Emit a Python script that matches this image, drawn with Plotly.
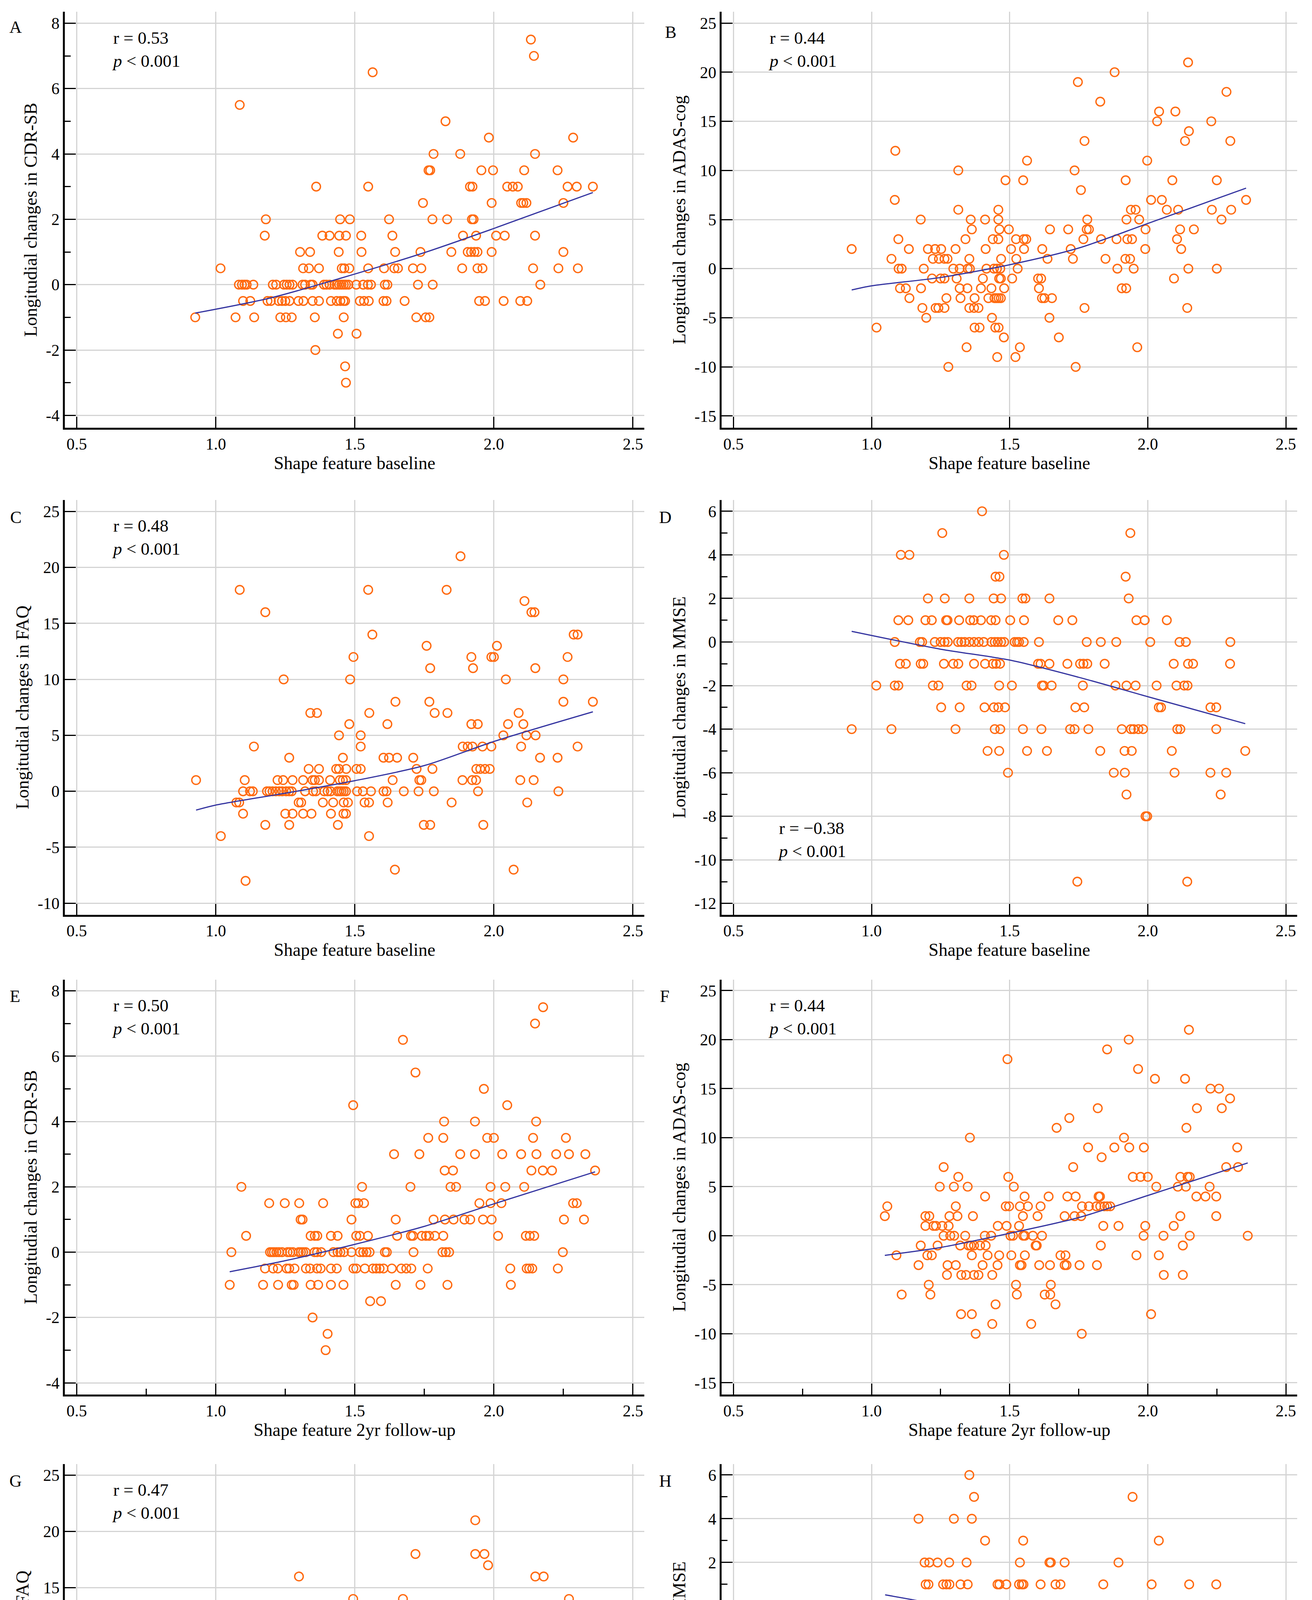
import plotly.graph_objects as go

# ---- values (x: shape feature, y: longitudinal change) ----

# A: baseline vs CDR-SB
A_x = [0.926, 1.017, 1.071, 1.086, 1.083, 1.094, 1.103, 1.111, 1.135, 1.098,
       1.124, 1.138, 1.180, 1.176, 1.205, 1.217, 1.186, 1.198, 1.232, 1.252,
       1.273, 1.226, 1.238, 1.250, 1.265, 1.245, 1.255, 1.265, 1.276, 1.303,
       1.339, 1.314, 1.335, 1.371, 1.297, 1.315, 1.312, 1.321, 1.341, 1.348,
       1.361, 1.348, 1.371, 1.356, 1.358, 1.383, 1.409, 1.389, 1.398, 1.409,
       1.414, 1.435, 1.439, 1.442, 1.447, 1.482, 1.444, 1.468, 1.453, 1.462,
       1.480, 1.427, 1.435, 1.444, 1.452, 1.460, 1.468, 1.477, 1.448, 1.459,
       1.465, 1.460, 1.465, 1.468, 1.506, 1.505, 1.530, 1.547, 1.558, 1.523,
       1.524, 1.548, 1.548, 1.564, 1.518, 1.533, 1.550, 1.605, 1.623, 1.635,
       1.645, 1.642, 1.655, 1.608, 1.617, 1.603, 1.614, 1.679, 1.709, 1.739,
       1.736, 1.727, 1.780, 1.721, 1.755, 1.768, 1.745, 1.765, 1.771, 1.783,
       1.779, 1.826, 1.832, 1.847, 1.879, 1.886, 1.889, 1.906, 1.918, 1.930,
       1.941, 1.914, 1.923, 1.921, 1.927, 1.936, 1.941, 1.959, 1.955, 1.947,
       1.968, 1.982, 1.992, 1.997, 1.992, 2.008, 2.039, 2.035, 2.048, 2.068,
       2.086, 2.098, 2.106, 2.117, 2.109, 2.095, 2.120, 2.133, 2.144, 2.148,
       2.148, 2.141, 2.167, 2.229, 2.232, 2.250, 2.250, 2.265, 2.298, 2.285,
       2.302, 2.356]
A_y = [-1, 0.5, -1, 5.5, 0, 0, 0, 0, 0, -0.5,
       -0.5, -1, 2, 1.5, 0, 0, -0.5, -0.5, -1, -1,
       -1, -0.5, -0.5, -0.5, -0.5, 0, 0, 0, 0, 1,
       1, 0.5, 0.5, 0.5, -0.5, -0.5, 0, 0, 0, 0,
       3, -0.5, -0.5, -1, -2, 1.5, 1.5, 0, 0, 0,
       -0.5, -0.5, -1.5, 1, 2, 2, 1.5, 1.5, 0.5, 0.5,
       0.5, 0, 0, 0, 0, 0, 0, 0, -0.5, -0.5,
       -0.5, -1, -2.5, -3, -1.5, 0, 0, 0, 0, 1.5,
       1, 0.5, 3, 6.5, -0.5, -0.5, -0.5, 0.5, 2, 1.5,
       1, 0.5, 0.5, 0, 0, -0.5, -0.5, -0.5, 0.5, 0.5,
       1, 0, 0, -1, -1, -1, 2.5, 3.5, 3.5, 4,
       2, 5, 2, 1, 4, 0.5, 1.5, 1, 1, 1,
       1, 3, 3, 2, 2, 1.5, 0.5, 0.5, 3.5, -0.5,
       -0.5, 4.5, 2.5, 3.5, 1, 1.5, 1.5, -0.5, 3, 3,
       3, 2.5, 2.5, 2.5, 3.5, -0.5, -0.5, 7.5, 7, 4,
       1.5, 0.5, 0, 3.5, 0.5, 2.5, 1, 3, 3, 4.5,
       0.5, 3]
A_fit_x = [0.926, 1.2, 1.45, 1.75, 2.0, 2.356]
A_fit_y = [-0.87, -0.40, 0.20, 0.98, 1.72, 2.82]

# B: baseline vs ADAS-cog
B_x = [0.928, 1.018, 1.072, 1.086, 1.084, 1.097, 1.098, 1.109, 1.103, 1.124,
       1.135, 1.137, 1.178, 1.179, 1.184, 1.189, 1.198, 1.204, 1.219, 1.222,
       1.230, 1.252, 1.232, 1.242, 1.264, 1.244, 1.264, 1.275, 1.250, 1.264,
       1.271, 1.278, 1.296, 1.304, 1.308, 1.314, 1.314, 1.319, 1.319, 1.322,
       1.340, 1.344, 1.347, 1.348, 1.356, 1.354, 1.359, 1.363, 1.354, 1.371,
       1.387, 1.373, 1.373, 1.391, 1.396, 1.403, 1.411, 1.413, 1.416, 1.423,
       1.436, 1.434, 1.439, 1.459, 1.443, 1.454, 1.466, 1.445, 1.452, 1.460,
       1.468, 1.448, 1.460, 1.455, 1.459, 1.459, 1.463, 1.462, 1.468, 1.469,
       1.480, 1.479, 1.485, 1.497, 1.505, 1.509, 1.521, 1.537, 1.523, 1.524,
       1.529, 1.549, 1.551, 1.560, 1.552, 1.563, 1.603, 1.614, 1.606, 1.617,
       1.626, 1.618, 1.637, 1.646, 1.644, 1.653, 1.678, 1.712, 1.721, 1.729,
       1.735, 1.739, 1.747, 1.758, 1.767, 1.771, 1.771, 1.781, 1.779, 1.787,
       1.828, 1.831, 1.847, 1.880, 1.887, 1.890, 1.906, 1.922, 1.919, 1.936,
       1.920, 1.923, 1.926, 1.943, 1.939, 1.956, 1.949, 1.962, 1.969, 1.991,
       1.992, 1.998, 2.012, 2.034, 2.041, 2.051, 2.069, 2.089, 2.095, 2.100,
       2.106, 2.110, 2.117, 2.121, 2.135, 2.146, 2.149, 2.147, 2.143, 2.167,
       2.230, 2.232, 2.250, 2.250, 2.267, 2.285, 2.299, 2.302, 2.356]
B_y = [2, -6, 1, 12, 7, 3, 0, 0, -2, -2,
       2, -3, 5, -2, -4, 0, -5, 2, -1, 1,
       2, 2, -4, -4, -4, 1, 1, 1, -1, -1,
       -3, -10, 0, 2, -1, 10, 6, 0, -2, -3,
       3, -8, -2, 0, 0, 1, 5, 4, -4, -4,
       -4, -3, -6, -6, -2, -1, 5, 2, 0, -3,
       -5, -2, 3, 3, 0, 0, 0, -3, -3, -3,
       -3, -6, -6, -9, 6, 5, 4, -1, -1, 1,
       -2, -7, 9, 4, 2, -1, -9, -8, 3, 1,
       0, 9, 3, 3, 2, 11, -1, -1, -2, -3,
       -3, 2, 1, 4, -5, -3, -7, 4, 2, 1,
       10, -10, 19, 8, 3, 13, -4, 5, 4, 4,
       17, 3, 1, 20, 3, 0, -2, -2, 1, 1,
       9, 5, 3, 3, 6, 6, 0, -8, 5, 2,
       4, 11, 7, 15, 16, 7, 6, 9, -1, 16,
       3, 6, 4, 2, 13, 21, 14, 0, -4, 4,
       15, 6, 9, 0, 5, 18, 13, 6, 7]
B_fit_x = [0.928, 1.0, 1.25, 1.5, 1.75, 2.0, 2.356]
B_fit_y = [-2.17, -1.75, -0.9, 0.4, 2.1, 4.6, 8.2]

# C: baseline vs FAQ
C_x = [0.929, 1.018, 1.074, 1.084, 1.086, 1.098, 1.098, 1.104, 1.107, 1.123,
       1.133, 1.137, 1.178, 1.178, 1.184, 1.193, 1.204, 1.216, 1.228, 1.239,
       1.253, 1.264, 1.273, 1.222, 1.242, 1.276, 1.244, 1.250, 1.276, 1.264,
       1.264, 1.298, 1.307, 1.314, 1.314, 1.321, 1.334, 1.340, 1.364, 1.344,
       1.350, 1.360, 1.348, 1.356, 1.371, 1.371, 1.385, 1.390, 1.402, 1.413,
       1.411, 1.414, 1.422, 1.433, 1.443, 1.443, 1.439, 1.437, 1.445, 1.452,
       1.460, 1.468, 1.446, 1.457, 1.468, 1.457, 1.460, 1.475, 1.459, 1.468,
       1.469, 1.480, 1.483, 1.495, 1.506, 1.521, 1.508, 1.529, 1.521, 1.521,
       1.535, 1.551, 1.548, 1.552, 1.551, 1.558, 1.563, 1.603, 1.623, 1.652,
       1.603, 1.614, 1.617, 1.618, 1.636, 1.646, 1.644, 1.676, 1.710, 1.722,
       1.732, 1.739, 1.729, 1.748, 1.771, 1.758, 1.768, 1.771, 1.779, 1.784,
       1.787, 1.830, 1.833, 1.848, 1.880, 1.887, 1.888, 1.906, 1.923, 1.919,
       1.919, 1.942, 1.925, 1.922, 1.936, 1.937, 1.951, 1.968, 1.985, 1.943,
       1.959, 1.962, 1.991, 1.991, 2.000, 2.011, 2.034, 2.043, 2.051, 2.071,
       2.089, 2.095, 2.098, 2.106, 2.110, 2.117, 2.120, 2.135, 2.146, 2.143,
       2.149, 2.150, 2.166, 2.229, 2.232, 2.250, 2.250, 2.265, 2.287, 2.301,
       2.301, 2.356]
C_y = [1, -4, -1, -1, 18, 0, -2, 1, -8, 0,
       0, 4, 16, -3, 0, 0, 0, 0, 0, 0,
       0, 0, 0, 1, 1, 1, 10, -2, -2, 3,
       -3, -1, -1, 1, -2, 0, 2, 7, 7, -2,
       0, 0, 1, 1, 1, 2, -1, 0, 0, 0,
       1, -2, -1, 2, 2, 5, -3, 0, 0, 0,
       0, 0, 1, 1, 1, 3, -1, -1, -2, -2,
       2, 6, 10, 12, 2, 2, 0, 0, 5, 4,
       -1, -1, 18, 7, -4, 0, 14, 3, 3, 3,
       0, 0, 6, -1, 1, 8, -7, 0, 3, 2,
       1, 1, 0, -3, -3, 13, 8, 11, 2, 0,
       7, 18, 7, -1, 21, 1, 4, 4, 4, 12,
       6, 6, 11, 1, 1, 2, 2, 2, 2, 0,
       4, -3, 4, 12, 12, 13, 5, 10, 6, -7,
       7, 1, 4, 6, 17, 5, -1, 16, 16, 1,
       11, 5, 3, 3, 0, 10, 8, 12, 14, 14,
       4, 8]
C_fit_x = [0.929, 1.0, 1.25, 1.5, 1.75, 2.0, 2.356]
C_fit_y = [-1.68, -1.23, -0.17, 0.95, 2.3, 4.45, 7.1]

# D: baseline vs MMSE
D_x = [0.928, 1.017, 1.072, 1.084, 1.084, 1.097, 1.097, 1.106, 1.137, 1.103,
       1.124, 1.133, 1.175, 1.183, 1.178, 1.187, 1.195, 1.218, 1.204, 1.222,
       1.242, 1.229, 1.250, 1.264, 1.276, 1.252, 1.256, 1.262, 1.265, 1.270,
       1.275, 1.296, 1.314, 1.304, 1.313, 1.325, 1.337, 1.354, 1.371, 1.388,
       1.406, 1.319, 1.317, 1.344, 1.362, 1.354, 1.357, 1.370, 1.396, 1.371,
       1.400, 1.409, 1.411, 1.420, 1.433, 1.449, 1.434, 1.446, 1.457, 1.469,
       1.480, 1.442, 1.469, 1.439, 1.451, 1.465, 1.446, 1.466, 1.449, 1.463,
       1.443, 1.459, 1.483, 1.462, 1.462, 1.479, 1.494, 1.502, 1.508, 1.518,
       1.527, 1.534, 1.551, 1.546, 1.557, 1.552, 1.548, 1.563, 1.603, 1.612,
       1.606, 1.617, 1.623, 1.615, 1.635, 1.644, 1.644, 1.652, 1.676, 1.709,
       1.719, 1.735, 1.727, 1.738, 1.770, 1.745, 1.755, 1.767, 1.781, 1.765,
       1.779, 1.785, 1.828, 1.830, 1.844, 1.877, 1.883, 1.886, 1.906, 1.916,
       1.942, 1.917, 1.920, 1.923, 1.923, 1.931, 1.937, 1.939, 1.949, 1.966,
       1.983, 1.956, 1.959, 1.989, 1.992, 1.998, 2.009, 2.032, 2.040, 2.048,
       2.069, 2.087, 2.094, 2.097, 2.104, 2.107, 2.118, 2.115, 2.138, 2.132,
       2.144, 2.143, 2.146, 2.164, 2.227, 2.248, 2.227, 2.248, 2.264, 2.284,
       2.298, 2.299, 2.353]
D_y = [-4, -2, -4, 0, -2, -2, 1, 4, 4, -1,
       -1, 1, 0, 0, -1, -1, 1, 1, 2, -2,
       -2, 0, 0, 0, 0, -3, 5, -1, 2, 1,
       1, -1, -1, -4, 0, 0, 0, 0, 0, 0,
       0, -3, 1, -2, -2, 2, 1, 1, 1, -1,
       6, -3, -1, -5, 1, 1, 0, 0, 0, 0,
       0, 2, 2, -1, -1, -1, -4, -4, 3, 3,
       -3, -3, -3, -2, -5, 4, -6, 1, -2, 0,
       0, 0, 0, 2, 2, 1, -4, -5, -1, -1,
       0, -2, -2, -4, -5, -1, 2, -2, 1, -1,
       -4, -4, 1, -3, -3, -11, -1, -1, -1, -2,
       0, -4, -5, 0, -1, -6, -2, 0, -4, -5,
       -5, -6, 3, -7, -2, 2, 5, -4, -4, -4,
       -4, -2, 1, 1, -8, -8, 0, -2, -3, -3,
       1, -5, -1, -6, -2, -4, -4, 0, 0, -2,
       -2, -11, -1, -1, -3, -3, -6, -4, -7, -6,
       -1, 0, -5]
D_fit_x = [0.928, 1.25, 1.5, 1.75, 2.0, 2.353]
D_fit_y = [0.49, -0.33, -0.83, -1.62, -2.51, -3.75]

# E: 2yr follow-up vs CDR-SB
E_x = [1.050, 1.056, 1.092, 1.109, 1.170, 1.177, 1.192, 1.195, 1.202, 1.209,
       1.218, 1.227, 1.238, 1.206, 1.223, 1.224, 1.248, 1.258, 1.267, 1.277,
       1.255, 1.264, 1.283, 1.273, 1.280, 1.300, 1.305, 1.312, 1.298, 1.306,
       1.314, 1.323, 1.324, 1.339, 1.341, 1.348, 1.341, 1.356, 1.365, 1.355,
       1.364, 1.379, 1.364, 1.377, 1.368, 1.386, 1.402, 1.395, 1.414, 1.438,
       1.423, 1.438, 1.448, 1.461, 1.414, 1.435, 1.414, 1.459, 1.488, 1.488,
       1.502, 1.512, 1.533, 1.526, 1.494, 1.505, 1.518, 1.547, 1.518, 1.530,
       1.542, 1.553, 1.495, 1.505, 1.536, 1.555, 1.565, 1.577, 1.589, 1.603,
       1.594, 1.608, 1.615, 1.633, 1.641, 1.647, 1.652, 1.647, 1.667, 1.685,
       1.703, 1.673, 1.700, 1.702, 1.709, 1.711, 1.718, 1.732, 1.736, 1.741,
       1.756, 1.767, 1.788, 1.818, 1.762, 1.764, 1.783, 1.818, 1.821, 1.823,
       1.853, 1.815, 1.827, 1.839, 1.824, 1.855, 1.833, 1.844, 1.864, 1.879,
       1.894, 1.915, 1.932, 1.932, 1.948, 1.961, 1.964, 1.976, 2.000, 1.988,
       1.988, 1.992, 2.015, 2.027, 2.030, 2.041, 2.048, 2.059, 2.061, 2.098,
       2.109, 2.115, 2.129, 2.145, 2.118, 2.127, 2.138, 2.135, 2.141, 2.148,
       2.152, 2.153, 2.177, 2.176, 2.209, 2.224, 2.230, 2.248, 2.252, 2.259,
       2.270, 2.285, 2.298, 2.324, 2.329, 2.364]
E_y = [-1, 0, 2, 0.5, -1, -0.5, 1.5, 0, 0, 0,
       0, 0, 0, -0.5, -0.5, -1, 1.5, 0, 0, 0,
       -0.5, -0.5, -0.5, -1, -1, 1.5, 1, 1, 0, 0,
       0, 0, -0.5, -0.5, -1, -2, 0.5, 0.5, 0.5, 0,
       0, 0, -0.5, -0.5, -1, 1.5, -2.5, -3, 0.5, 0.5,
       0, 0, 0, 0, -0.5, -0.5, -1, -1, 1, 0,
       1.5, 1.5, 1.5, 2, 4.5, 0.5, 0.5, 0.5, 0, 0,
       0, 0, -0.5, -0.5, -0.5, -1.5, -0.5, -0.5, -0.5, -0.5,
       -1.5, 0, 0, -0.5, 3, 1, 0.5, -1, -0.5, -0.5,
       -0.5, 6.5, 2, 0.5, 0.5, 0, 5.5, 3, -1, 0.5,
       0.5, 0.5, 0.5, 0.5, -0.5, 3.5, 1, 3.5, 4, 2.5,
       2.5, 0, 0, 0, 1, 1, -1, 2, 2, 3,
       1, 1, 3, 4, 1.5, 1, 5, 3.5, 3.5, 2,
       1.5, 1, 0.5, 1.5, 3, 2, 4.5, -0.5, -1, 3,
       2, 0.5, 0.5, 0.5, -0.5, -0.5, -0.5, 2.5, 3.5, 7,
       4, 3, 7.5, 2.5, 2.5, 3, -0.5, 0, 1, 3.5,
       3, 1.5, 1.5, 1, 3, 2.5]
E_fit_x = [1.05, 1.25, 1.5, 1.75, 2.0, 2.364]
E_fit_y = [-0.60, -0.26, 0.24, 0.79, 1.48, 2.46]

# F: 2yr follow-up vs ADAS-cog
F_x = [1.048, 1.057, 1.090, 1.109, 1.170, 1.178, 1.195, 1.209, 1.195, 1.202,
       1.218, 1.207, 1.213, 1.224, 1.233, 1.239, 1.247, 1.256, 1.261, 1.261,
       1.275, 1.273, 1.282, 1.279, 1.285, 1.299, 1.298, 1.305, 1.305, 1.311,
       1.314, 1.321, 1.325, 1.342, 1.324, 1.339, 1.348, 1.351, 1.359, 1.371,
       1.356, 1.363, 1.363, 1.367, 1.371, 1.387, 1.377, 1.393, 1.402, 1.411,
       1.410, 1.433, 1.413, 1.420, 1.437, 1.437, 1.449, 1.456, 1.457, 1.462,
       1.486, 1.498, 1.489, 1.492, 1.495, 1.503, 1.512, 1.506, 1.515, 1.523,
       1.526, 1.534, 1.537, 1.537, 1.543, 1.548, 1.549, 1.555, 1.554, 1.555,
       1.566, 1.578, 1.584, 1.594, 1.598, 1.601, 1.607, 1.612, 1.617, 1.627,
       1.641, 1.646, 1.647, 1.649, 1.666, 1.670, 1.684, 1.702, 1.699, 1.699,
       1.706, 1.709, 1.739, 1.716, 1.730, 1.735, 1.753, 1.759, 1.761, 1.762,
       1.787, 1.784, 1.814, 1.828, 1.843, 1.853, 1.864, 1.816, 1.819, 1.822,
       1.827, 1.830, 1.833, 1.839, 1.853, 1.879, 1.894, 1.914, 1.931, 1.933,
       1.946, 1.959, 1.965, 1.974, 2.000, 1.986, 1.985, 1.991, 2.012, 2.026,
       2.031, 2.040, 2.057, 2.058, 2.094, 2.109, 2.118, 2.118, 2.127, 2.127,
       2.135, 2.138, 2.140, 2.144, 2.152, 2.149, 2.152, 2.176, 2.209, 2.248,
       2.178, 2.224, 2.227, 2.258, 2.248, 2.268, 2.284, 2.298, 2.324, 2.327,
       2.362]
F_y = [2, 3, -2, -6, -3, -1, 2, 2, 1, -2,
       -2, -5, -6, 1, 1, -1, 5, 1, 7, 0,
       -3, -4, 2, 1, 0, 0, 5, 3, -3, 2,
       6, -1, -4, -4, -8, 0, 5, -1, -1, -1,
       10, -2, -8, 2, -4, -4, -10, -1, -3, 4,
       0, 0, -1, -2, -4, -9, -7, -3, 1, -2,
       3, 3, 1, 18, 6, 0, 0, -2, 5, -5,
       -6, 1, 3, -3, -3, 2, 0, 0, 4, -2,
       3, -9, 0, -1, -1, 2, -3, 3, 0, -6,
       4, -3, -6, -5, -7, 11, -2, -2, 2, -3,
       -3, 4, 4, 12, 7, 2, -3, 2, -10, 3,
       3, 9, 3, 3, 3, 3, 3, -3, 13, 4,
       4, -1, 8, 1, 19, 9, 1, 10, 20, 9,
       6, -2, 17, 6, 6, 9, 0, 1, -8, 16,
       5, -2, 0, -4, 1, 5, 6, 2, -1, -4,
       16, 5, 11, 6, 6, 21, 0, 4, 4, 4,
       13, 5, 15, 15, 2, 13, 7, 14, 9, 7,
       0]
F_fit_x = [1.048, 1.25, 1.5, 1.75, 2.0, 2.362]
F_fit_y = [-2.0, -1.2, 0.25, 1.85, 4.1, 7.42]

# G: 2yr follow-up vs FAQ
G_x = [1.049, 1.057, 1.092, 1.110, 1.170, 1.178, 1.196, 1.204, 1.227, 1.248,
       1.196, 1.205, 1.214, 1.224, 1.235, 1.245, 1.258, 1.268, 1.279, 1.288,
       1.224, 1.261, 1.233, 1.256, 1.299, 1.299, 1.305, 1.311, 1.313, 1.325,
       1.327, 1.357, 1.322, 1.331, 1.341, 1.350, 1.359, 1.373, 1.340, 1.374,
       1.365, 1.367, 1.377, 1.393, 1.388, 1.416, 1.402, 1.413, 1.436, 1.459,
       1.420, 1.437, 1.463, 1.439, 1.451, 1.457, 1.489, 1.489, 1.492, 1.505,
       1.518, 1.529, 1.540, 1.555, 1.494, 1.501, 1.505, 1.517, 1.506, 1.523,
       1.531, 1.540, 1.552, 1.538, 1.549, 1.554, 1.554, 1.566, 1.580, 1.584,
       1.597, 1.595, 1.604, 1.615, 1.626, 1.646, 1.667, 1.612, 1.644, 1.646,
       1.649, 1.673, 1.684, 1.702, 1.702, 1.704, 1.712, 1.707, 1.718, 1.730,
       1.761, 1.782, 1.735, 1.738, 1.756, 1.762, 1.764, 1.788, 1.814, 1.830,
       1.842, 1.814, 1.817, 1.847, 1.824, 1.825, 1.825, 1.834, 1.853, 1.854,
       1.862, 1.880, 1.894, 1.916, 1.933, 1.933, 1.966, 1.946, 1.960, 1.979,
       1.988, 1.986, 2.002, 1.991, 2.015, 2.028, 2.031, 2.041, 2.048, 2.060,
       2.061, 2.097, 2.110, 2.140, 2.118, 2.120, 2.129, 2.135, 2.146, 2.141,
       2.176, 2.149, 2.179, 2.152, 2.152, 2.209, 2.229, 2.224, 2.248, 2.248,
       2.258, 2.270, 2.285, 2.298, 2.324, 2.328, 2.364]
G_y = [1, -2, -3, -4, 4, 3, 2, 1, 1, 1,
       0, 0, 0, 0, 0, 0, 0, 0, 0, 0,
       -1, -1, -2, 10, 16, -8, 7, -1, -2, -2,
       1, 1, 0, 0, 0, 0, 0, 0, 2, 2,
       6, -1, -2, -2, -1, -1, 1, 1, 1, 1,
       0, 0, 0, -3, -1, -1, 4, -2, 0, 0,
       0, 0, 0, 0, 14, 5, 3, 3, -1, 1,
       1, 1, 1, 2, 2, 12, -3, -1, 2, -2,
       1, 0, 0, 0, 0, 0, 0, 7, 7, 5,
       -7, 14, 2, 3, -4, 0, 0, -2, 18, 6,
       6, 6, 2, 3, 3, 8, 1, 1, 0, 0,
       0, -1, 11, 11, 7, 8, 6, 13, -3, 6,
       7, 7, 1, 1, 21, 18, 18, 2, 4, 17,
       10, 4, 4, -1, -3, 10, 4, 1, 2, 2,
       -3, 12, 2, 2, 0, -1, 1, 4, 4, 12,
       12, 16, 16, 11, -7, 5, 5, 12, 4, 3,
       3, 14, 13, 5, 8, 8, 10]
G_fit_x = [1.049, 1.25, 1.5, 1.75, 2.0, 2.364]
G_fit_y = [-1.23, -0.3, 0.84, 2.0, 3.82, 6.35]

# H: 2yr follow-up vs MMSE
H_x = [1.049, 1.057, 1.090, 1.109, 1.170, 1.178, 1.192, 1.209, 1.239, 1.281,
       1.344, 1.196, 1.206, 1.202, 1.207, 1.210, 1.219, 1.230, 1.225, 1.225,
       1.256, 1.247, 1.259, 1.271, 1.282, 1.262, 1.273, 1.284, 1.295, 1.305,
       1.316, 1.298, 1.305, 1.311, 1.321, 1.325, 1.322, 1.348, 1.337, 1.357,
       1.339, 1.357, 1.366, 1.376, 1.387, 1.354, 1.360, 1.363, 1.371, 1.393,
       1.400, 1.414, 1.439, 1.411, 1.411, 1.433, 1.449, 1.422, 1.456, 1.456,
       1.463, 1.488, 1.486, 1.514, 1.485, 1.499, 1.515, 1.528, 1.541, 1.555,
       1.569, 1.581, 1.492, 1.497, 1.506, 1.526, 1.534, 1.534, 1.544, 1.550,
       1.537, 1.549, 1.554, 1.554, 1.594, 1.604, 1.595, 1.597, 1.610, 1.618,
       1.612, 1.630, 1.646, 1.641, 1.644, 1.649, 1.666, 1.684, 1.670, 1.699,
       1.702, 1.699, 1.715, 1.709, 1.738, 1.730, 1.761, 1.732, 1.759, 1.751,
       1.762, 1.787, 1.814, 1.825, 1.782, 1.814, 1.817, 1.822, 1.831, 1.822,
       1.854, 1.839, 1.845, 1.853, 1.863, 1.879, 1.894, 1.913, 1.933, 1.959,
       1.975, 1.931, 1.945, 1.963, 1.985, 1.986, 1.989, 1.999, 2.029, 2.014,
       2.026, 2.040, 2.044, 2.057, 2.060, 2.094, 2.106, 2.126, 2.143, 2.118,
       2.117, 2.138, 2.127, 2.133, 2.138, 2.175, 2.147, 2.150, 2.150, 2.176,
       2.209, 2.224, 2.227, 2.248, 2.247, 2.267, 2.298, 2.256, 2.284, 2.324,
       2.327, 2.362]
H_y = [-4, -2, -1, -2, 4, 0, 2, 2, 2, 2,
       2, 1, 1, -1, -1, 0, 0, 0, -4, -2,
       -2, -3, 1, 1, 1, 0, 0, 0, 0, 0,
       0, 4, -3, -4, -2, -2, 1, 1, -1, -1,
       0, 0, 0, 0, 0, 6, -3, 4, 5, -4,
       -1, -1, -1, 3, 0, 0, 0, -2, -5, 1,
       1, 1, -3, -3, 0, 0, 0, 0, 0, 0,
       0, 0, -6, -1, -1, -4, -5, 1, 1, 1,
       2, 3, -1, -6, -1, -1, -2, -5, 0, 0,
       1, -1, -1, -2, 2, 2, 1, 1, -5, 2,
       0, -2, -2, -1, -1, -3, -3, -4, -4, -2,
       -2, -2, -2, -2, -6, -5, -3, -1, -1, -4,
       -4, 1, -7, -11, 0, -5, 2, -4, -4, -4,
       -4, -6, 5, -5, 0, -3, -1, -2, -2, 1,
       -3, 3, -4, -4, -1, -5, 0, 0, 0, -3,
       -4, -4, -1, -6, -8, -8, -11, 1, -2, -2,
       0, -7, -2, 1, -1, -1, -1, -6, 0, -3,
       -5, -4]
H_fit_x = [1.049, 1.25, 1.5, 1.75, 2.0, 2.362]
H_fit_y = [0.52, 0.05, -0.75, -1.5, -2.12, -3.22]

# ticks and labels
x_ticks = [0.5, 1.0, 1.5, 2.0, 2.5]
x_tick_labels = ["0.5", "1.0", "1.5", "2.0", "2.5"]
cdr_ticks = [-4, -2, 0, 2, 4, 6, 8]
adas_ticks = [-15, -10, -5, 0, 5, 10, 15, 20, 25]
faq_ticks = [-10, -5, 0, 5, 10, 15, 20, 25]
mmse_ticks = [-12, -10, -8, -6, -4, -2, 0, 2, 4, 6]
r_values = ["0.53", "0.44", "0.48", "\u22120.38", "0.50", "0.44", "0.47", "\u22120.37"]
panel_letters = ["A", "B", "C", "D", "E", "F", "G", "H"]
y_titles = ["Longitudial changes in CDR-SB", "Longitudial changes in ADAS-cog",
            "Longitudial changes in FAQ", "Longitudial changes in MMSE"]
x_titles = ["Shape feature baseline", "Shape feature 2yr follow-up"]

FONT = "Liberation Serif"
ORANGE = "#FF6A10"
NAVY = "#3434A0"

panels = [
    (A_x, A_y, A_fit_x, A_fit_y, cdr_ticks, y_titles[0], x_titles[0], (-4.38, 8.35)),
    (B_x, B_y, B_fit_x, B_fit_y, adas_ticks, y_titles[1], x_titles[0], (-16.2, 26.15)),
    (C_x, C_y, C_fit_x, C_fit_y, faq_ticks, y_titles[2], x_titles[0], (-11.03, 26.03)),
    (D_x, D_y, D_fit_x, D_fit_y, mmse_ticks, y_titles[3], x_titles[0], (-12.52, 6.52)),
    (E_x, E_y, E_fit_x, E_fit_y, cdr_ticks, y_titles[0], x_titles[1], (-4.36, 8.34)),
    (F_x, F_y, F_fit_x, F_fit_y, adas_ticks, y_titles[1], x_titles[1], (-16.2, 26.1)),
    (G_x, G_y, G_fit_x, G_fit_y, faq_ticks, y_titles[2], x_titles[1], (-11.06, 26.0)),
    (H_x, H_y, H_fit_x, H_fit_y, mmse_ticks, y_titles[3], x_titles[1], (-12.55, 6.5)),
]

# layout geometry (paper fractions)
col_dom = [(0.0494, 0.4911), (0.55, 0.9887)]
row_dom = [(0.7789, 0.9939), (0.5272, 0.7416), (0.2792, 0.4936), (0.0279, 0.2433)]
letter_pos = [(40, 70), (1718, 82), (40, 1324), (1704, 1324),
              (38, 2551), (1702, 2551), (40, 3791), (1704, 3791)]
W, H = 3360, 4953

fig = go.Figure()
annotations = []

for i, (px, py, fx, fy, yt, ytitle, xtitle, yr) in enumerate(panels):
    n = i + 1
    row, col = divmod(i, 2)
    xa = "x" if n == 1 else f"x{n}"
    ya = "y" if n == 1 else f"y{n}"

    fig.add_trace(go.Scatter(
        x=px, y=py, mode="markers", xaxis=xa, yaxis=ya, showlegend=False,
        marker=dict(symbol="circle-open", size=22, color=ORANGE,
                    line=dict(width=3.4, color=ORANGE))
    ))
    fig.add_trace(go.Scatter(
        x=fx, y=fy, mode="lines", xaxis=xa, yaxis=ya, showlegend=False,
        line=dict(color=NAVY, width=3, shape="spline", smoothing=0.8)
    ))

    two_step = (yt[1] - yt[0]) == 2
    xaxis = dict(
        domain=list(col_dom[col]), anchor=ya, range=[0.457, 2.541],
        tickmode="array", tickvals=x_ticks, ticktext=x_tick_labels,
        ticks="inside", ticklen=28, tickwidth=3, tickcolor="black",
        showline=True, linewidth=5, linecolor="black", mirror=False,
        showgrid=True, gridcolor="#d4d4d4", gridwidth=2.5, zeroline=False,
        tickfont=dict(family=FONT, size=42, color="black"),
        title=dict(text=xtitle, font=dict(family=FONT, size=46, color="black"),
                   standoff=0 if row < 2 else 4),
    )
    if row >= 2:
        xaxis["minor"] = dict(tickmode="linear", tick0=0.5, dtick=0.25, ticks="inside",
                              ticklen=15, tickwidth=3, tickcolor="black", showgrid=False)
    yaxis = dict(
        domain=list(row_dom[row]), anchor=xa, range=list(yr),
        tickmode="array", tickvals=yt, ticktext=[str(v) for v in yt],
        ticks="inside", ticklen=28, tickwidth=3, tickcolor="black",
        showline=True, linewidth=5, linecolor="black", mirror=False,
        showgrid=True, gridcolor="#d4d4d4", gridwidth=2.5, zeroline=False,
        tickfont=dict(family=FONT, size=42, color="black"),
        title=dict(text=ytitle, font=dict(family=FONT, size=46, color="black"),
                   standoff=10),
    )
    if two_step:
        yaxis["minor"] = dict(tickmode="linear", tick0=0, dtick=1, ticks="inside",
                              ticklen=15, tickwidth=3, tickcolor="black", showgrid=False)

    fig.update_layout(**{("xaxis" if n == 1 else f"xaxis{n}"): xaxis,
                         ("yaxis" if n == 1 else f"yaxis{n}"): yaxis})

    # r / p statistics
    bottom = r_values[i].startswith("\u2212")
    annotations.append(dict(
        xref=f"{xa} domain", yref=f"{ya} domain",
        x=0.096 if bottom else 0.08, y=0.181 if bottom else 0.91,
        xanchor="left", yanchor="middle", align="left", showarrow=False,
        text=f"r = {r_values[i]}<br><i>p</i> &lt; 0.001",
        font=dict(family=FONT, size=45, color="black"),
    ))
    # panel letter
    lx, ly = letter_pos[i]
    annotations.append(dict(
        xref="paper", yref="paper", x=lx / W, y=1 - ly / H,
        xanchor="center", yanchor="middle", showarrow=False,
        text=panel_letters[i], font=dict(family=FONT, size=44, color="black"),
    ))

fig.update_layout(
    width=W, height=H, autosize=False,
    margin=dict(l=0, r=0, t=0, b=0),
    paper_bgcolor="white", plot_bgcolor="white",
    font=dict(family=FONT, color="black"),
    annotations=annotations,
)

# drop the default page margin so the figure fills the window exactly
fig.write_html("out.html", config={"displayModeBar": False},
               post_script="document.body.style.margin='0';")
